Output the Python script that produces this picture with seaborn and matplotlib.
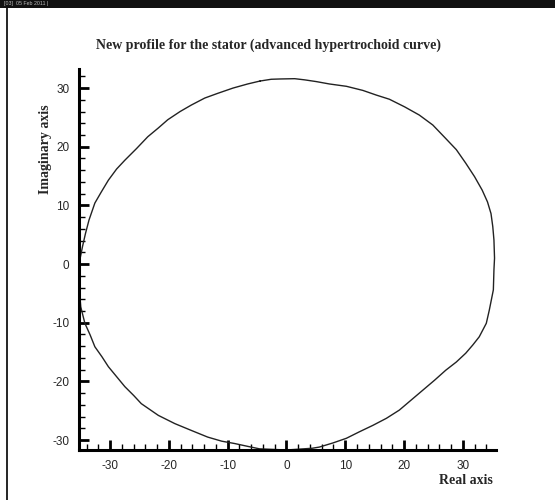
import matplotlib
matplotlib.use("Agg")
import matplotlib.pyplot as plt
import seaborn as sns
import pandas as pd
from matplotlib.ticker import MultipleLocator
from matplotlib.patches import Rectangle
from matplotlib.lines import Line2D

# Curve points (clockwise from the top)
real_part = [-4.5, -2.6, -1.1, 1.4, 3.1, 5.1, 7.3, 10.2, 13.0, 15.3, 17.5, 20.1,
             22.6, 24.9, 27.1, 28.9, 30.5, 32.0, 33.3, 34.2, 34.8, 35.1, 35.3,
             35.4, 35.3, 35.2, 34.5, 34.0, 32.8, 31.7, 30.5, 28.9, 27.1, 25.2,
             23.2, 21.2, 19.2, 17.0, 14.7, 12.4, 10.2, 7.9, 5.6, 4.4, 0.0, -4.6,
             -6.5, -8.8, -11.0, -13.4, -16.1, -19.0, -21.8, -24.7, -26.0, -27.5,
             -28.9, -30.3, -31.4, -32.6, -33.4, -34.3, -35.0, -35.3, -35.1, -34.7,
             -34.2, -33.6, -32.6, -31.5, -30.3, -28.9, -27.5, -25.5, -23.6, -21.8,
             -20.2, -18.1, -16.2, -13.9, -11.7, -9.1, -6.6, -4.5]
imag_part = [31.2, 31.5, 31.55, 31.6, 31.4, 31.1, 30.7, 30.3, 29.6, 28.8, 28.1, 26.8,
             25.4, 23.7, 21.4, 19.5, 17.2, 14.9, 12.6, 10.6, 8.6, 6.4, 4.1,
             1.0, -1.0, -4.4, -7.9, -10.1, -12.4, -13.8, -15.2, -16.7, -18.1, -19.8,
             -21.5, -23.2, -24.9, -26.3, -27.5, -28.6, -29.7, -30.5, -31.2, -31.4, -31.7, -31.5,
             -31.1, -30.6, -30.2, -29.5, -28.4, -27.2, -25.8, -23.8, -22.4, -20.9,
             -19.2, -17.5, -15.8, -14.1, -12.1, -10.1, -7.3, -3.5, 1.0, 3.0,
             5.2, 7.5, 10.4, 12.3, 14.3, 16.2, 17.7, 19.7, 21.7, 23.2,
             24.6, 26.0, 27.1, 28.3, 29.1, 30.0, 30.7, 31.2]

title_text = "New profile for the stator (advanced hypertrochoid curve)"
x_label = "Real axis"
y_label = "Imaginary axis"

df = pd.DataFrame({"re": real_part, "im": imag_part})

sns.set_style("ticks")
plt.rcParams["axes.unicode_minus"] = False
serif = ["Liberation Serif", "DejaVu Serif"]
sans = ["Liberation Sans", "DejaVu Sans"]

fig = plt.figure(figsize=(5.55, 5.0), dpi=100)
ax = fig.add_axes([79 / 555, 1 - 450 / 500, (496 - 79) / 555, (450 - 69.3) / 500])

sns.lineplot(data=df, x="re", y="im", sort=False, estimator=None, ax=ax,
             color="#222222", linewidth=1.0)

ax.set_xlim(-35.3, 35.65)
ax.set_ylim(-31.7, 33.2)

for s in ["top", "right"]:
    ax.spines[s].set_visible(False)
for s in ["left", "bottom"]:
    ax.spines[s].set_linewidth(2.2)
    ax.spines[s].set_color("black")

ax.xaxis.set_major_locator(MultipleLocator(10))
ax.xaxis.set_minor_locator(MultipleLocator(2))
ax.yaxis.set_major_locator(MultipleLocator(10))
ax.yaxis.set_minor_locator(MultipleLocator(2))
ax.tick_params(which="major", direction="in", length=7.5, width=2.0, color="black",
               pad=7, labelsize=8.5)
ax.tick_params(which="minor", direction="in", length=4.5, width=1.0, color="black")
for lab in ax.get_xticklabels() + ax.get_yticklabels():
    lab.set_family(sans)

ax.set_xlabel("")
ax.set_ylabel("")
fig.text(493 / 555, 1 - 481 / 500, x_label, ha="right", va="center",
         family=serif, fontweight="bold", fontsize=10)
fig.text(45 / 555, 1 - 149 / 500, y_label, ha="center", va="center", rotation=90,
         family=serif, fontweight="bold", fontsize=10)
fig.text(268 / 555, 1 - 45 / 500, title_text, ha="center", va="center",
         family=serif, fontweight="bold", fontsize=10)

# Top black bar and left frame line
fig.patches.append(Rectangle((0, 1 - 8 / 500), 1, 8 / 500, transform=fig.transFigure,
                             facecolor="#111111", edgecolor="none", zorder=5))
fig.text(4 / 555, 1 - 4 / 500, "[03]  05 Feb 2011 |", ha="left", va="center",
         family=sans, fontsize=3.8, color="#bbbbbb", zorder=6)
fig.lines.append(Line2D([7 / 555, 7 / 555], [0, 1 - 8 / 500], transform=fig.transFigure,
                        color="black", linewidth=1.2))

fig.savefig("out.png", dpi=100)
